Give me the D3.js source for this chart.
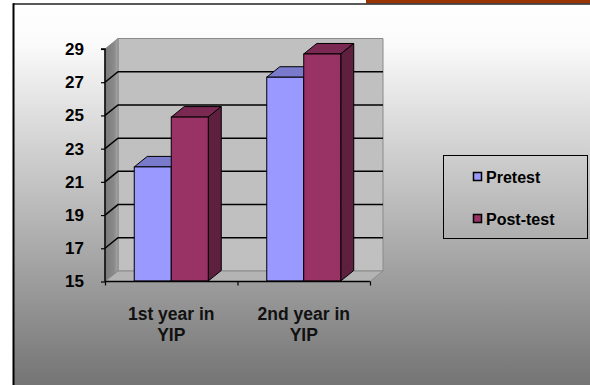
<!DOCTYPE html>
<html><head><meta charset="utf-8">
<script src="https://cdn.jsdelivr.net/npm/d3@7"></script>
<style>html,body{margin:0;padding:0;background:#fff;}svg{display:block;}</style>
</head><body>
<script>
const categories = [["1st year in","YIP"],["2nd year in","YIP"]];
const seriesNames = ["Pretest","Post-test"];
const pretest = [21.9, 27.3];
const posttest = [24.9, 28.7];
const yTicks = [15,17,19,21,23,25,27,29];

const W=590,H=385;
const svg=d3.select("body").append("svg").attr("width",W).attr("height",H);
const defs=svg.append("defs");
const bg=defs.append("linearGradient").attr("id","bg").attr("x1",0).attr("y1",0).attr("x2",0).attr("y2",1);
bg.append("stop").attr("offset",0).attr("stop-color","#ffffff");
bg.append("stop").attr("offset",0.1).attr("stop-color","#fbfbfb");
bg.append("stop").attr("offset",1).attr("stop-color","#747474");
const lw=defs.append("linearGradient").attr("id","lw").attr("x1",0).attr("y1",0).attr("x2",1).attr("y2",0);
lw.append("stop").attr("offset",0).attr("stop-color","#7a7a7a");
lw.append("stop").attr("offset",0.7).attr("stop-color","#8a8a8a");
lw.append("stop").attr("offset",1).attr("stop-color","#a8a8a8");

// frame
svg.append("rect").attr("x",13).attr("y",4).attr("width",W-13).attr("height",H-4).attr("fill","url(#bg)");
svg.append("rect").attr("x",366).attr("y",0).attr("width",W-366).attr("height",3.5).attr("fill","#993300");
svg.append("line").attr("x1",13).attr("x2",W).attr("y1",4).attr("y2",4).attr("stroke","#222").attr("stroke-width",1.5);
svg.append("line").attr("x1",13.5).attr("x2",13.5).attr("y1",3.3).attr("y2",H).attr("stroke","#000").attr("stroke-width",2);

const x0=105,x1=370,dx=13,dy=-10.5;
const y=d3.scaleLinear().domain([15,29]).range([281.5,49]);
const xb=d3.scaleBand().domain(d3.range(categories.length)).range([x0,x1]).paddingInner(0.4415).paddingOuter(0.2208);
const xs=d3.scaleBand().domain(seriesNames).range([0,xb.bandwidth()]);
const colors={"Pretest":{front:"#9999ff",top:"#7a7acc",side:"#6868b0"},"Post-test":{front:"#993366",top:"#7a2a52",side:"#5f2040"}};

const g=svg.append("g");
const yTop=y(29),yBot=y(15);
// back wall
g.append("polygon").attr("points",[[x0+dx,yTop+dy],[x1+dx,yTop+dy],[x1+dx,yBot+dy],[x0+dx,yBot+dy]].join(" "))
 .attr("fill","#c0c0c0").attr("stroke","#8a8a8a").attr("stroke-width",1);
// left wall
g.append("polygon").attr("points",[[x0,yTop],[x0+dx,yTop+dy],[x0+dx,yBot+dy],[x0,yBot]].join(" "))
 .attr("fill","url(#lw)").attr("stroke","#8a8a8a").attr("stroke-width",1);
// floor
g.append("polygon").attr("points",[[x0,yBot],[x1,yBot],[x1+dx,yBot+dy],[x0+dx,yBot+dy]].join(" "))
 .attr("fill","#b4b4b4").attr("stroke","#8a8a8a").attr("stroke-width",1);
// gridlines
yTicks.filter(v=>v>15&&v<29).forEach(v=>{
  g.append("polyline").attr("points",[[x0,y(v)],[x0+dx,y(v)+dy],[x1+dx,y(v)+dy]].join(" "))
   .attr("fill","none").attr("stroke","#000").attr("stroke-width",1.5);
});
// bars
const data=categories.map((c,i)=>[{s:"Pretest",v:pretest[i],i},{s:"Post-test",v:posttest[i],i}]).flat();
data.forEach(d=>{
  const bx=xb(d.i)+xs(d.s), bw=xs.bandwidth(), ty=y(d.v), by=yBot-0.5;
  const c=colors[d.s];
  g.append("polygon").attr("points",[[bx,ty],[bx+dx,ty+dy],[bx+bw+dx,ty+dy],[bx+bw,ty]].join(" "))
   .attr("fill",c.top).attr("stroke","#000").attr("stroke-width",1).attr("stroke-linejoin","round");
  g.append("polygon").attr("points",[[bx+bw,ty],[bx+bw+dx,ty+dy],[bx+bw+dx,by+dy],[bx+bw,by]].join(" "))
   .attr("fill",c.side).attr("stroke","#000").attr("stroke-width",1).attr("stroke-linejoin","round");
  g.append("rect").attr("x",bx).attr("y",ty).attr("width",bw).attr("height",by-ty)
   .attr("fill",c.front).attr("stroke","#000").attr("stroke-width",1);
});
// axes
const yAxis=d3.axisLeft(y).tickValues(yTicks).tickSize(4).tickFormat(d3.format("d"));
const ya=svg.append("g").attr("transform",`translate(${x0},0)`).call(yAxis);
ya.select(".domain").attr("stroke","#000").attr("stroke-width",1.5).attr("d",`M-4,${yTop}H0V${yBot}`);
ya.selectAll(".tick line").attr("stroke","#000").attr("stroke-width",1.2);
ya.selectAll(".tick text").attr("x",-21).attr("font-family","'Liberation Sans',Arial,sans-serif")
  .attr("font-weight","bold").attr("font-size",17).attr("fill","#000");

const xEdge=d3.scaleLinear().domain([0,categories.length]).range([x0,x1]);
const xa=svg.append("g").attr("transform",`translate(0,${yBot})`)
  .call(d3.axisBottom(xEdge).tickValues(d3.range(categories.length+1)).tickSize(4).tickFormat(""));
xa.select(".domain").attr("stroke","#000").attr("stroke-width",1.5).attr("d",`M${x0},0H${x1}`);
xa.selectAll(".tick line").attr("stroke","#000").attr("stroke-width",1.2);

categories.forEach((c,i)=>{
  const t=svg.append("text").attr("x",xb(i)+xb.bandwidth()/2).attr("y",320).attr("text-anchor","middle")
   .attr("font-family","'Liberation Sans',Arial,sans-serif").attr("font-weight","bold").attr("font-size",17.5).attr("fill","#111");
  c.forEach((line,k)=>t.append("tspan").attr("x",xb(i)+xb.bandwidth()/2).attr("dy",k?21:0).text(line));
});

// legend
const lg=svg.append("g");
lg.append("rect").attr("x",443.5).attr("y",155.5).attr("width",144).attr("height",83).attr("fill","none").attr("stroke","#000").attr("stroke-width",1);
seriesNames.forEach((s,k)=>{
  const yy=172.5+k*42;
  lg.append("rect").attr("x",473.5).attr("y",yy).attr("width",8).attr("height",8).attr("fill",colors[s].front).attr("stroke","#000").attr("stroke-width",1.5);
  lg.append("text").attr("x",486).attr("y",yy+10.5).text(s).attr("font-family","'Liberation Sans',Arial,sans-serif")
   .attr("font-weight","bold").attr("font-size",16).attr("fill","#000");
});
</script>
</body></html>
